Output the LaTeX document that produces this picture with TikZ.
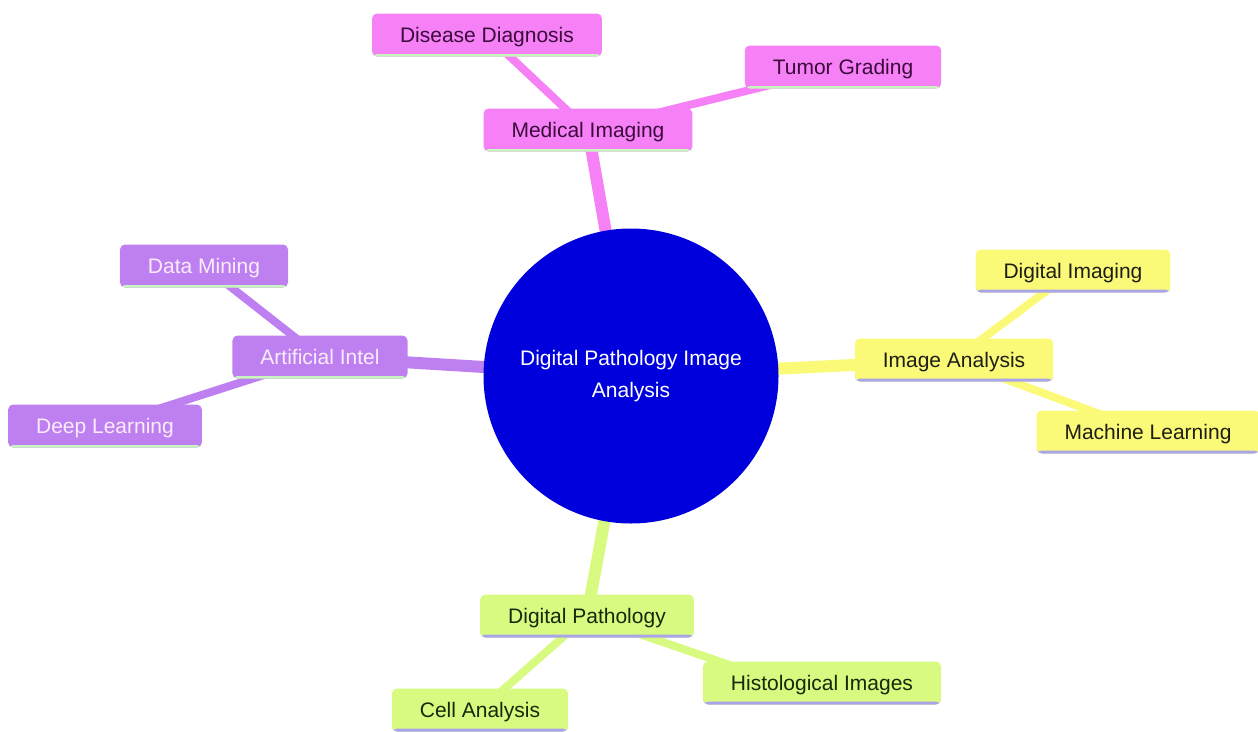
\documentclass[tikz,border=0pt]{standalone}
\usepackage{fontspec}
\setmainfont{Liberation Sans}
\usetikzlibrary{backgrounds}
\definecolor{pinkc}{RGB}{246,128,246}
\definecolor{pinkt}{RGB}{60,10,60}
\definecolor{purpc}{RGB}{190,128,240}
\definecolor{purpt}{RGB}{250,236,250}
\definecolor{yellc}{RGB}{250,250,120}
\definecolor{yellt}{RGB}{30,30,20}
\definecolor{grenc}{RGB}{216,250,128}
\definecolor{grent}{RGB}{25,40,10}
\definecolor{ulgreen}{RGB}{200,245,190}
\definecolor{ullav}{RGB}{170,165,235}
\definecolor{hubc}{RGB}{0,0,220}
\tikzset{
  leaf/.style={rectangle, rounded corners=5pt, inner xsep=28pt, inner ysep=0pt,
    minimum height=43pt, text height=17pt, text depth=2pt,
    font=\fontsize{21}{25}\selectfont},
  ulg/.style={path picture={\fill[ulgreen] ([yshift=2.5pt]path picture bounding box.south west) rectangle (path picture bounding box.south east);}},
  ull/.style={path picture={\fill[ullav] ([yshift=3pt]path picture bounding box.south west) rectangle (path picture bounding box.south east);}},
  pinknode/.style={leaf, fill=pinkc, text=pinkt, ulg},
  purpnode/.style={leaf, fill=purpc, text=purpt, ulg},
  yellnode/.style={leaf, fill=yellc, text=yellt, ull},
  grennode/.style={leaf, fill=grenc, text=grent, ull},
  mainline/.style={line width=12pt},
  subline/.style={line width=8pt},
}
\begin{document}
\begin{tikzpicture}[x=1pt,y=-1pt]
\useasboundingbox (0,0) rectangle (1258,731);
\node[circle, fill=hubc, minimum size=295pt, inner sep=0pt, text=white,
  align=center, font=\fontsize{21}{32}\selectfont] (hub) at (631,376)
  {Digital Pathology Image\\Analysis};
\node[pinknode] (mi) at (588,130) {Medical Imaging};
\node[pinknode] (dd) at (487,35) {Disease Diagnosis};
\node[pinknode] (tg) at (843,67) {Tumor Grading};
\node[purpnode] (ai) at (320,357) {Artificial Intel};
\node[purpnode] (dm) at (204,266) {Data Mining};
\node[purpnode] (dl) at (105,426) {Deep Learning};
\node[yellnode] (ia) at (954,360) {Image Analysis};
\node[yellnode] (di) at (1073,271) {Digital Imaging};
\node[yellnode] (ml) at (1148,432) {Machine Learning};
\node[grennode] (dp) at (587,616) {Digital Pathology};
\node[grennode] (ca) at (480,710) {Cell Analysis};
\node[grennode] (hi) at (822,683) {Histological Images};
\begin{pgfonlayer}{background}
\draw[mainline, pinkc] (mi.center) -- (hub.center);
\draw[mainline, purpc] (ai.center) -- (hub.center);
\draw[mainline, yellc] (ia.center) -- (hub.center);
\draw[mainline, grenc] (dp.center) -- (hub.center);
\draw[subline, pinkc] (dd.center) -- (mi.center);
\draw[subline, pinkc] (tg.center) -- (mi.center);
\draw[subline, purpc] (dm.center) -- (ai.center);
\draw[subline, purpc] (dl.center) -- (ai.center);
\draw[subline, yellc] (di.center) -- (ia.center);
\draw[subline, yellc] (ml.center) -- (ia.center);
\draw[subline, grenc] (ca.center) -- (dp.center);
\draw[subline, grenc] ([xshift=-40pt]hi.center) -- (dp.center);
\end{pgfonlayer}
\end{tikzpicture}
\end{document}
